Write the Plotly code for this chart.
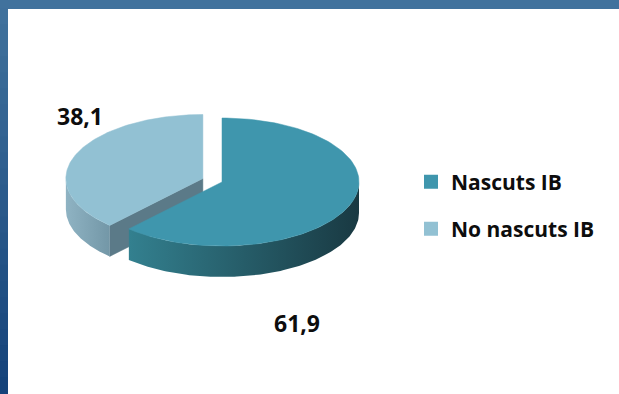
import numpy as np
import plotly.graph_objects as go

# ---------------- data ----------------
labels = ["Nascuts IB", "No nascuts IB"]
values = [61.9, 38.1]
value_text = ["61,9", "38,1"]
explode = [0.0, 0.15]

top_colors = ["#3F96AD", "#92C1D3"]
side_colors = [["#33808F", "#193942"], ["#8FB3C3", "#7397A7"]]
cut_colors = ["#2A6878", "#5B7A88"]

# ---------------- geometry (plot-area pixel units) ----------------
W, H = 619, 394
ML, MT = 8, 9
CX, CY = 222.0, 182.0      # centre of top ellipse
A, B = 137.0, 64.0         # ellipse half-axes
D = 31.0                   # pie thickness

total = float(sum(values))
ends = np.cumsum(values) / total * 360.0
starts = np.concatenate([[0.0], ends[:-1]])


def pt(theta, cx, cy, dz=0.0):
    t = np.radians(theta)
    return cx + A * np.sin(t), cy - B * np.cos(t) + dz


def arc(t0, t1, cx, cy, dz=0.0, n=120):
    th = np.linspace(t0, t1, n)
    x, y = pt(th, cx, cy, dz)
    return list(x), list(y)


fig = go.Figure()

order = sorted(range(len(values)),
               key=lambda i: -np.cos(np.radians((starts[i] + ends[i]) / 2)))

for i in order:
    t0, t1 = starts[i], ends[i]
    mid = np.radians((t0 + t1) / 2)
    cx = CX + explode[i] * A * np.sin(mid)
    cy = CY - explode[i] * B * np.cos(mid)

    # radial cut faces
    for tb, sgn in ((t0, -1), (t1, 1)):
        s = np.sin(np.radians(tb))
        visible = (sgn == -1 and s < -1e-6) or (sgn == 1 and s > 1e-6)
        if not visible:
            continue
        ex, ey = pt(tb, cx, cy)
        fig.add_trace(go.Scatter(
            x=[cx, ex, ex, cx, cx], y=[cy, ey, ey + D, cy + D, cy],
            mode="lines", fill="toself", fillcolor=cut_colors[i],
            line=dict(width=0.5, color=cut_colors[i]),
            hoverinfo="skip", showlegend=False))

    # outer side (front half only)
    a0, a1 = max(t0, 90.0), min(t1, 270.0)
    if a1 > a0:
        xt, yt = arc(a0, a1, cx, cy)
        xb, yb = arc(a1, a0, cx, cy, D)
        fig.add_trace(go.Scatter(
            x=xt + xb + [xt[0]], y=yt + yb + [yt[0]],
            mode="lines", fill="toself",
            fillgradient=dict(type="horizontal",
                              colorscale=[[0, side_colors[i][0]],
                                          [1, side_colors[i][1]]]),
            line=dict(width=0),
            hoverinfo="skip", showlegend=False))

    # top surface
    xa, ya = arc(t0, t1, cx, cy)
    fig.add_trace(go.Scatter(
        x=[cx] + xa + [cx], y=[cy] + ya + [cy],
        mode="lines", fill="toself", fillcolor=top_colors[i],
        line=dict(width=0.5, color=top_colors[i]),
        hoverinfo="skip", showlegend=False))

# legend entries
for i, lab in enumerate(labels):
    fig.add_trace(go.Scatter(
        x=[None], y=[None], mode="markers", name=lab,
        marker=dict(symbol="square", size=14, color=top_colors[i]),
        legend="legend" if i == 0 else "legend2"))

# value labels
label_pos = [(297, 323), (80, 116)]
font_lbl = dict(family="Open Sans", size=23, color="#0D0D0D", weight="bold")
for i, txt in enumerate(value_text):
    fig.add_annotation(x=label_pos[i][0], y=label_pos[i][1], text=txt,
                       showarrow=False, font=font_lbl,
                       xanchor="center", yanchor="middle")

# frame gradient (left strip)
top_c = np.array([0x41, 0x72, 0x9D])
bot_c = np.array([0x15, 0x43, 0x7A])
N = 24
pw, ph = W - ML, H - MT
for k in range(N):
    f = (k + 0.5) / N
    c = top_c + (bot_c - top_c) * f
    fig.add_shape(type="rect", xref="paper", yref="paper",
                  x0=-ML / pw, x1=0,
                  y0=1 - (k + 1) / N - 0.002, y1=1 - k / N + 0.002,
                  fillcolor="rgb(%d,%d,%d)" % tuple(c.astype(int)),
                  line=dict(width=0), layer="below")

leg_font = dict(family="Open Sans", size=21, color="#0D0D0D", weight="bold")
fig.update_layout(
    width=W, height=H,
    margin=dict(l=ML, r=0, t=MT, b=0, autoexpand=False),
    paper_bgcolor="#41729D",
    plot_bgcolor="white",
    xaxis=dict(range=[ML, W], visible=False, fixedrange=True),
    yaxis=dict(range=[H, MT], visible=False, fixedrange=True),
    legend=dict(xref="container", yref="container", x=411 / W,
                y=1 - 182 / H, xanchor="left", yanchor="middle",
                font=leg_font, bgcolor="rgba(0,0,0,0)"),
    legend2=dict(xref="container", yref="container", x=411 / W,
                 y=1 - 229 / H, xanchor="left", yanchor="middle",
                 font=leg_font, bgcolor="rgba(0,0,0,0)"),
    showlegend=True,
)

fig.write_html("out.html")
